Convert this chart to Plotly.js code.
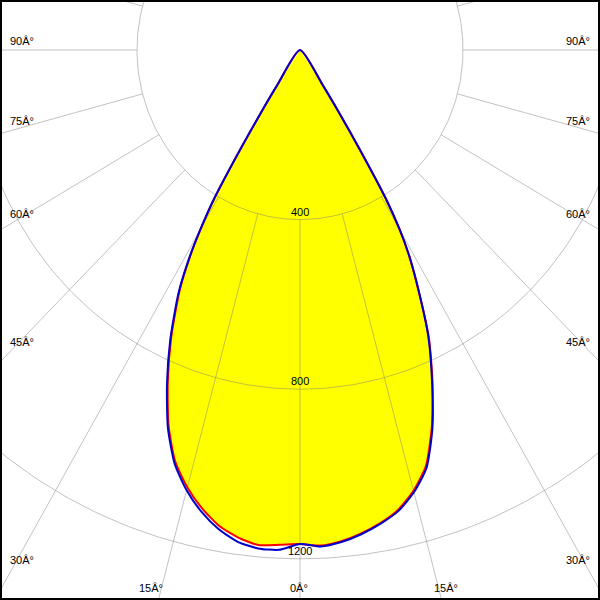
<!DOCTYPE html>
<html><head><meta charset="utf-8">
<script src="https://cdn.plot.ly/plotly-3.0.1.min.js"></script>
<style>html,body{margin:0;padding:0;background:#fff}#chart{width:600px;height:600px}</style>
</head><body><div id="chart"></div>
<script>
// Polar luminous intensity data (gamma angle in degrees, intensity in cd)
const gammaDeg = [-35,-34,-33,-32,-31,-30,-29,-27.5,-25,-22.5,-20,-17.5,-15,-12.5,-10,-7.5,-5,-2.5,0,2.5,5,7.5,10,12.5,15,17.5,20,22.5,25,27.5,29,30,31,32,33,34,35];
const intensityBlue = [0,100,175,280,410,490,560,645,753,853,948,1023,1075,1116,1148,1170,1180,1180,1165,1172,1165,1152,1135,1114,1080,1033,950,847,745,622,550,490,410,280,175,100,0];
const intensityRed  = [0,98,172,277,405,486,556,640,748,848,943,1018,1068,1108,1140,1160,1172,1168,1165,1170,1163,1150,1133,1111,1076,1028,946,850,748,620,548,488,408,278,173,98,0];

const gridRadii = [400, 800, 1200];
const radialLabels = ['400', '800', '1200'];
const gridAngles = [0,15,30,45,60,75,90,105,120,135,150,165,180,195,210,225,240,255,270,285,300,315,330,345];
const gridOuter = 2000;

const angleLabels = ['90Â°','75Â°','60Â°','45Â°','30Â°'];
const bottomLabels = ['15Â°','0Â°','15Â°'];

// layout-only label placement (pixels)
const sideLabelY = [41, 121, 214, 342, 560];
const bottomLabelX = [151, 299, 446];

const rad = d => d * Math.PI / 180;
function toXY(angles, vals) {
  const x = [], y = [];
  angles.forEach((a, i) => { x.push(vals[i] * Math.sin(rad(a))); y.push(-vals[i] * Math.cos(rad(a))); });
  return {x, y};
}

const red = toXY(gammaDeg, intensityRed);
const blue = toXY(gammaDeg, intensityBlue);
const fillX = red.x.slice(0, -1), fillY = red.y.slice(0, -1);

// grid
const gx = [], gy = [];
gridRadii.forEach(r => {
  for (let a = 0; a <= 360; a += 1) { gx.push(r * Math.sin(rad(a))); gy.push(-r * Math.cos(rad(a))); }
  gx.push(null); gy.push(null);
});
gridAngles.forEach(a => {
  gx.push(gridRadii[0] * Math.sin(rad(a)), gridOuter * Math.sin(rad(a)), null);
  gy.push(-gridRadii[0] * Math.cos(rad(a)), -gridOuter * Math.cos(rad(a)), null);
});

const sm = 0.6;
const traces = [
  {type:'scatter', mode:'lines', x: fillX, y: fillY, fill:'toself', fillcolor:'#ffff00', line:{width:0, shape:'spline', smoothing:sm}, hoverinfo:'skip'},
  {type:'scatter', mode:'lines', x: gx, y: gy, line:{color:'rgba(120,120,120,0.45)', width:1}, connectgaps:false, hoverinfo:'skip'},
  {type:'scatter', mode:'lines', x: red.x, y: red.y, line:{color:'#ff0000', width:2, shape:'spline', smoothing:sm}, hoverinfo:'skip'},
  {type:'scatter', mode:'lines', x: blue.x, y: blue.y, line:{color:'#0000cc', width:2, shape:'spline', smoothing:sm}, hoverinfo:'skip'}
];

const font = {family:'Liberation Sans, Arial, sans-serif', size:11, color:'#000'};
const annotations = [];
gridRadii.forEach((r, i) => annotations.push({x:0, y:-r, xref:'x', yref:'y', text: radialLabels[i], showarrow:false, xanchor:'center', yanchor:'bottom', font}));
angleLabels.forEach((t, i) => {
  annotations.push({x:8/600, y:1 - sideLabelY[i]/600, xref:'paper', yref:'paper', text:t, showarrow:false, xanchor:'left', yanchor:'middle', font});
  annotations.push({x:592/600, y:1 - sideLabelY[i]/600, xref:'paper', yref:'paper', text:t, showarrow:false, xanchor:'right', yanchor:'middle', font});
});
bottomLabels.forEach((t, i) => annotations.push({x:bottomLabelX[i]/600, y:1 - 588/600, xref:'paper', yref:'paper', text:t, showarrow:false, xanchor:'center', yanchor:'middle', font}));

const layout = {
  width:600, height:600, margin:{l:0,r:0,t:0,b:0},
  paper_bgcolor:'#fff', plot_bgcolor:'#fff', showlegend:false,
  xaxis:{range:[-736.2, 736.2], visible:false, fixedrange:true},
  yaxis:{range:[-1297.2, 117.9], visible:false, fixedrange:true},
  annotations,
  shapes:[{type:'rect', xref:'paper', yref:'paper', x0:0, y0:0, x1:1, y1:1, line:{color:'#000', width:4}, layer:'above'}]
};
Plotly.newPlot('chart', traces, layout, {displayModeBar:false, staticPlot:true});
</script></body></html>
